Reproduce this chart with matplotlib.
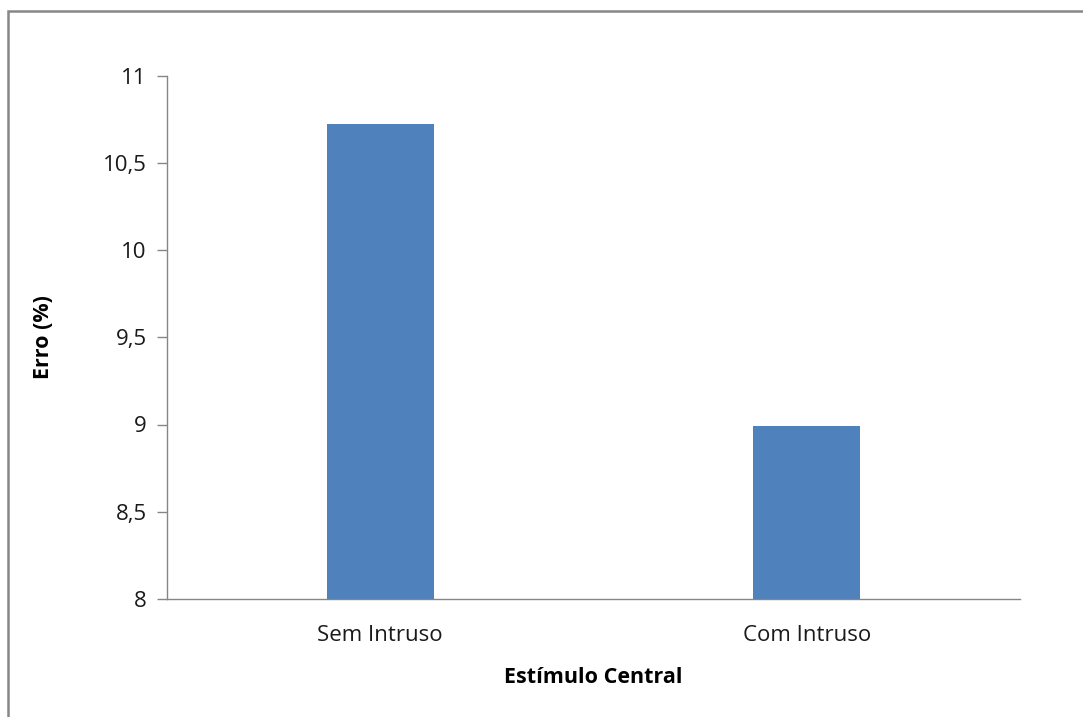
import matplotlib.pyplot as plt
from matplotlib.patches import Rectangle

categorias = ['Sem Intruso', 'Com Intruso']
erro = [10.72, 8.99]
yticks = [8, 8.5, 9, 9.5, 10, 10.5, 11]
ytick_labels = ['8', '8,5', '9', '9,5', '10', '10,5', '11']

plt.rcParams['font.family'] = ['Open Sans', 'DejaVu Sans']

fig = plt.figure(figsize=(10.83, 7.17), dpi=100)
ax = fig.add_axes([167 / 1083, 1 - 599 / 717, (1020 - 167) / 1083, (599 - 75.5) / 717])

x = range(len(categorias))
ax.bar(x, erro, width=0.25, color='#4F81BD', zorder=2)

ax.set_xlim(-0.5, 1.5)
ax.set_ylim(8, 11)
ax.set_yticks(yticks)
ax.set_yticklabels(ytick_labels)
ax.set_xticks(list(x))
ax.set_xticklabels(categorias)

gray = '#868686'
for s in ['top', 'right']:
    ax.spines[s].set_visible(False)
for s in ['left', 'bottom']:
    ax.spines[s].set_color(gray)
    ax.spines[s].set_linewidth(1.0)

ax.tick_params(axis='y', length=7.5, width=1.0, color=gray, labelsize=16, labelcolor='#1a1a1a', pad=7)
ax.tick_params(axis='x', length=0, labelsize=16, labelcolor='#1a1a1a', pad=19)

ax.set_xlabel('Estímulo Central', fontsize=15.5, fontweight='bold', labelpad=15)
ax.set_ylabel('Erro (%)', fontsize=15.5, fontweight='bold', labelpad=35)

# chart area border (Excel-style frame, cut at right/bottom)
fig.patches.append(Rectangle((8 / 1083, -0.1), 1.2, 1 - 11 / 717 + 0.1,
                             transform=fig.transFigure, fill=False,
                             edgecolor='#878787', linewidth=1.8))

fig.savefig('out.png', dpi=100)
